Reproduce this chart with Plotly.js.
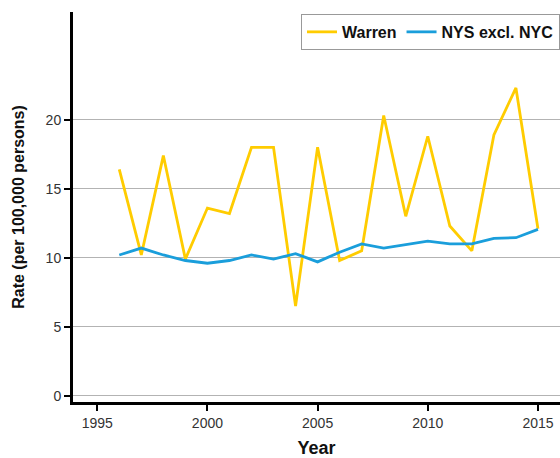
<html lang="en">
  <head>
    <meta charset="UTF-8" />
    <script src="https://cdn.plot.ly/plotly-3.0.1.min.js"></script>
    <style>
      body { margin: 0; background: #fff; }
    </style>
  </head>
  <body>
    <div id="chart" style="width: 560px; height: 458px;"></div>
    <script>
      // Data
      const years = [1996, 1997, 1998, 1999, 2000, 2001, 2002, 2003, 2004, 2005,
                     2006, 2007, 2008, 2009, 2010, 2011, 2012, 2013, 2014, 2015];
      const warren = [16.4, 10.2, 17.4, 9.9, 13.6, 13.2, 18.0, 18.0, 6.5, 18.0,
                      9.8, 10.5, 20.3, 13.0, 18.8, 12.3, 10.5, 18.9, 22.3, 12.1];
      const nysExclNyc = [10.2, 10.7, 10.2, 9.8, 9.6, 9.8, 10.2, 9.9, 10.3, 9.7,
                          10.4, 11.0, 10.7, 10.95, 11.2, 11.0, 11.0, 11.4, 11.45, 12.05];
      const xTicks = [1995, 2000, 2005, 2010, 2015];
      const yTicks = [0, 5, 10, 15, 20];

      const font = 'Liberation Sans, Arial, sans-serif';

      const traces = [
        {
          x: years, y: warren, name: 'Warren',
          type: 'scatter', mode: 'lines',
          line: { color: '#ffcc00', width: 2.8 }
        },
        {
          x: years, y: nysExclNyc, name: 'NYS excl. NYC',
          type: 'scatter', mode: 'lines',
          line: { color: '#1a9edb', width: 2.8 }
        }
      ];

      const layout = {
        width: 560, height: 458,
        margin: { l: 73, r: 0, t: 12, b: 56 },
        paper_bgcolor: '#fff', plot_bgcolor: '#fff',
        font: { family: font, size: 14, color: '#333' },
        showlegend: true,
        legend: {
          orientation: 'h', x: 1, xanchor: 'right', y: 0.995, yanchor: 'top',
          bordercolor: '#999', borderwidth: 1, bgcolor: '#fff',
          font: { family: font, size: 16, color: '#111', weight: 'bold' }
        },
        xaxis: {
          range: [1993.9, 2016.0],
          tickvals: xTicks, ticktext: xTicks.map(String),
          showgrid: false, zeroline: false,
          showline: true, linecolor: '#000', linewidth: 3,
          ticks: 'outside', ticklen: 6, tickwidth: 2, tickcolor: '#000',
          title: { text: 'Year', font: { family: font, size: 18, color: '#111', weight: 'bold' }, standoff: 18 }
        },
        yaxis: {
          range: [-0.45, 27.8],
          tickvals: yTicks, ticktext: yTicks.map(String),
          showgrid: true, gridcolor: '#b3b3b3', gridwidth: 1,
          zeroline: false,
          showline: true, linecolor: '#000', linewidth: 3,
          ticks: 'outside', ticklen: 6, tickwidth: 2, tickcolor: '#000',
          title: { text: 'Rate (per 100,000 persons)', font: { family: font, size: 16, color: '#111', weight: 'bold' }, standoff: 18 }
        }
      };

      Plotly.newPlot('chart', traces, layout, { displayModeBar: false, staticPlot: true });
    </script>
  </body>
</html>
